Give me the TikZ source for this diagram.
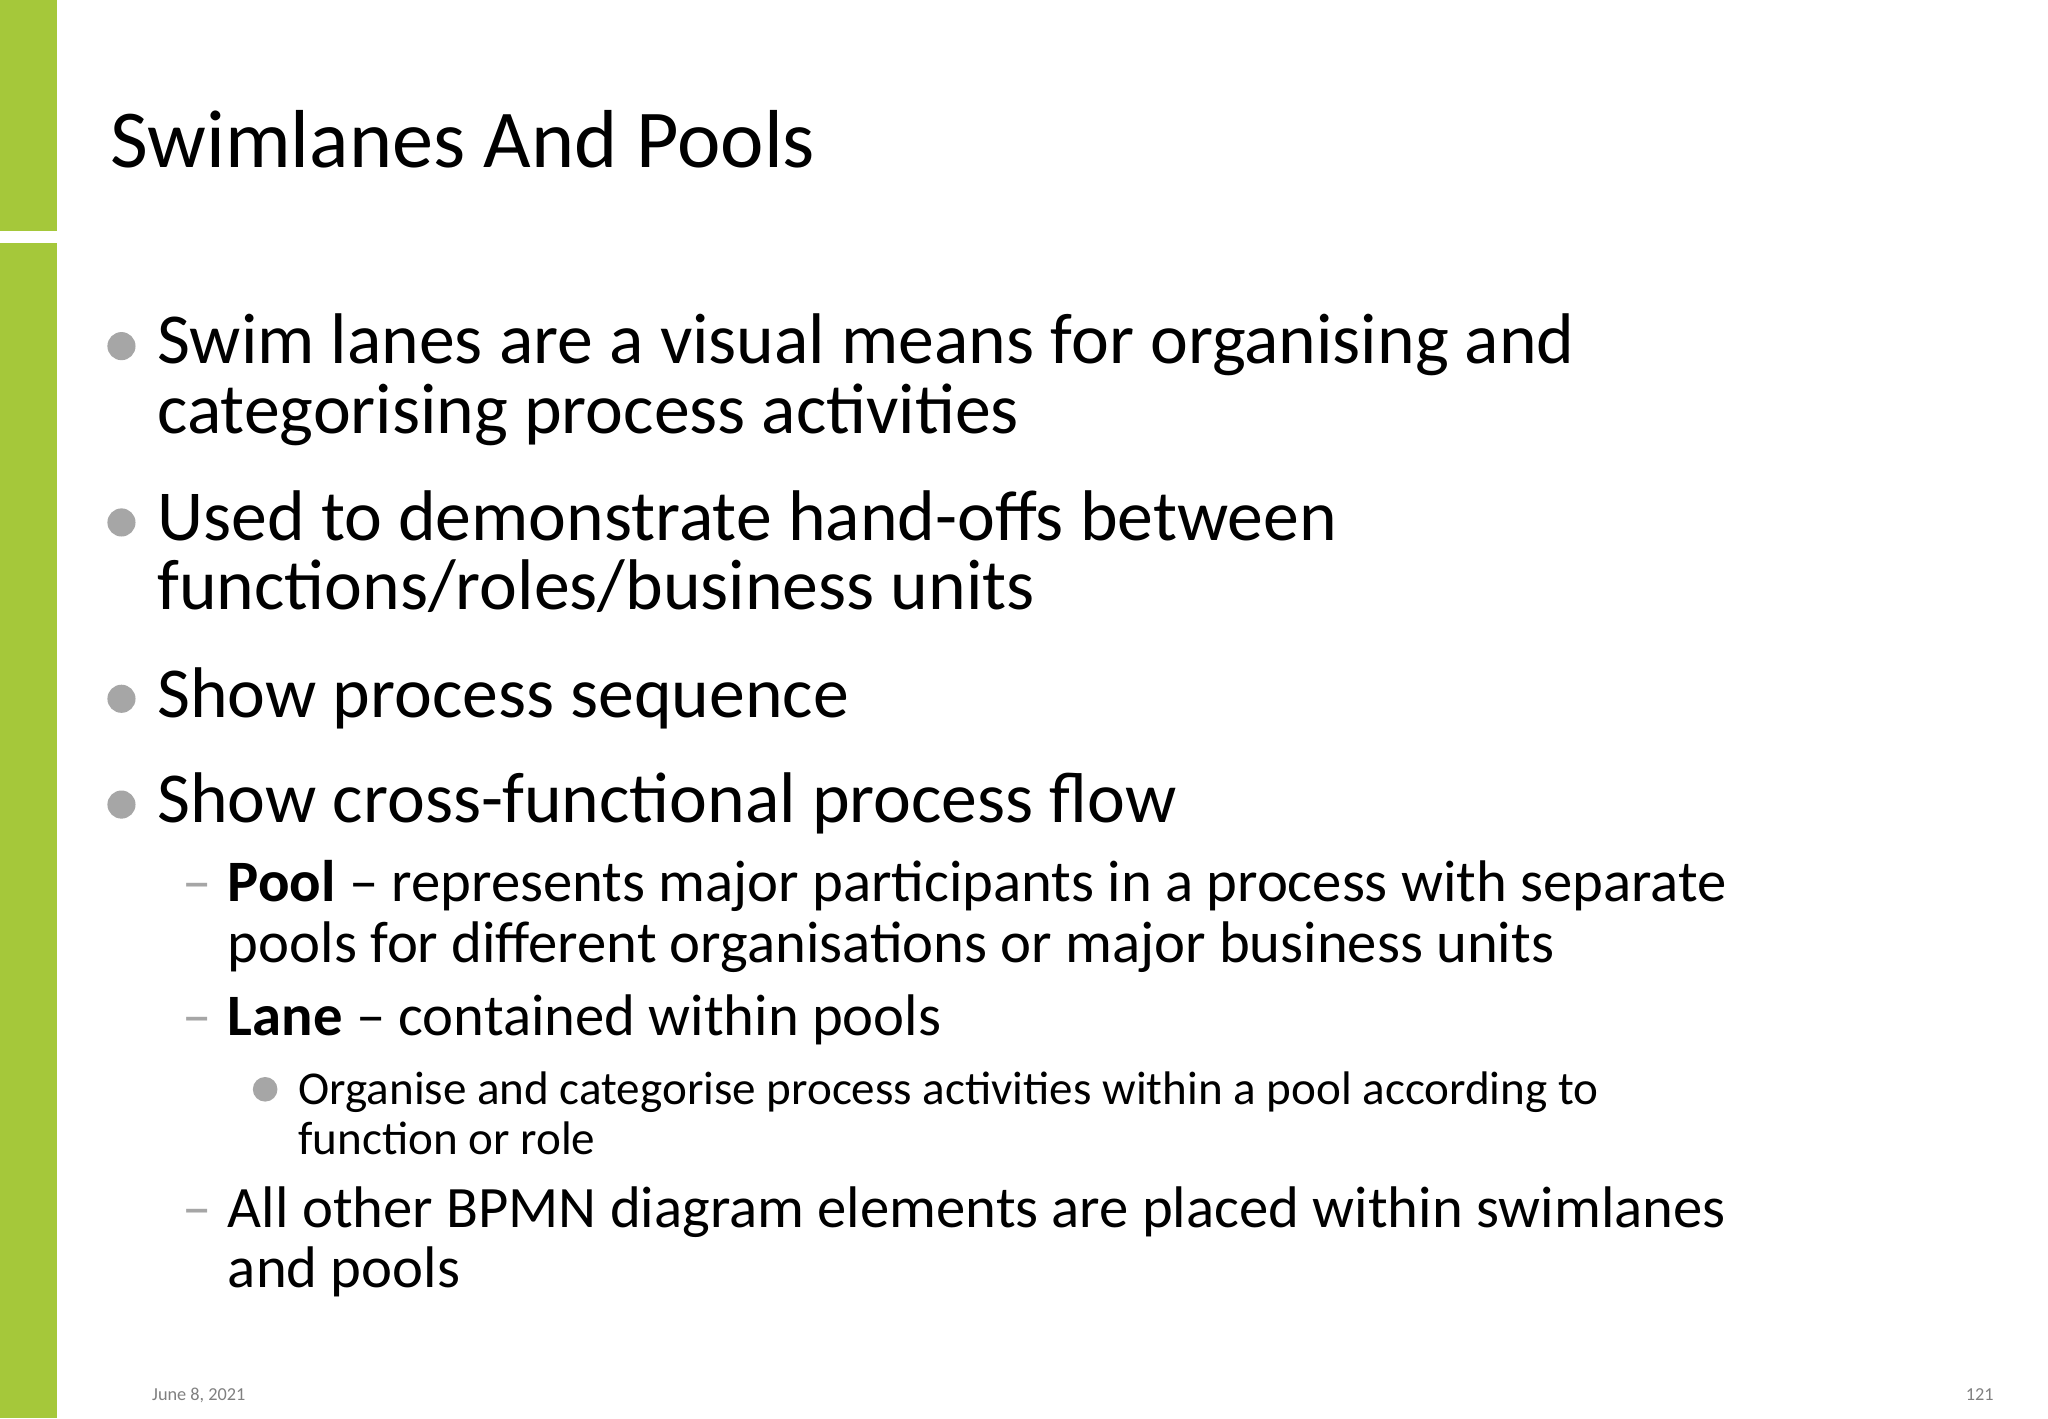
\documentclass[tikz,border=0pt]{standalone}
\usepackage{fontspec}
\setmainfont{Carlito}
\definecolor{barg}{HTML}{A5C83A}
\definecolor{bul}{HTML}{A6A6A6}
\begin{document}
\begin{tikzpicture}[x=0.01306cm,y=-0.01306cm,
  t/.style={anchor=base west,inner sep=0pt,text=black},
  l1/.style={t,font=\fontsize{20.4}{24}\selectfont},
  l2/.style={t,font=\fontsize{16.7}{20}\selectfont},
  l3/.style={t,font=\fontsize{13.4}{16}\selectfont},
  dot/.style={circle,fill=bul,inner sep=0pt,minimum size=#1}]
\useasboundingbox (0,0) rectangle (1568,1086);
\fill[white] (0,0) rectangle (1568,1086);
\fill[barg] (0,0) rectangle (44,177);
\fill[barg] (0,186) rectangle (44,1086);
\node[t,font=\fontsize{23.4}{28}\selectfont] (title) at (84,128) {Swimlanes And Pools};
\node[dot=8] (d1) at (93,265) {};
\node[l1] (a1) at (120,278) {Swim lanes are a visual means for organising and};
\node[l1] (a2) at (120,332) {categorising process activities};
\node[dot=8] (d2) at (93,400) {};
\node[l1] (b1) at (120,414) {Used to demonstrate hand-offs between};
\node[l1] (b2) at (120,467) {functions/roles/business units};
\node[dot=8] (d3) at (93,535) {};
\node[l1] (c1) at (120,549) {Show process sequence};
\node[dot=8] (d4) at (93,616) {};
\node[l1] (e1) at (120,630) {Show cross-functional process flow};
\node[l2,text=bul] (m1) at (139,690) {\textendash};
\node[l2] (p1) at (174,690) {\textbf{Pool} \textendash\ represents major participants in a process with separate};
\node[l2] (p2) at (174,737) {pools for different organisations or major business units};
\node[l2,text=bul] (m2) at (139,793) {\textendash};
\node[l2] (q1) at (174,793) {\textbf{Lane} \textendash\ contained within pools};
\node[dot=7] (d5) at (203,834) {};
\node[l3] (r1) at (228,846) {Organise and categorise process activities within a pool according to};
\node[l3] (r2) at (228,884) {function or role};
\node[l2,text=bul] (m3) at (139,940) {\textendash};
\node[l2] (s1) at (174,940) {All other BPMN diagram elements are placed within swimlanes};
\node[l2] (s2) at (174,986) {and pools};
\node[t,text=gray,font=\fontsize{5.2}{6}\selectfont] (date) at (116,1072) {June 8, 2021};
\node[anchor=base east,inner sep=0pt,text=gray,font=\fontsize{5.2}{6}\selectfont] (pg) at (1527,1072) {121};
\end{tikzpicture}
\end{document}
